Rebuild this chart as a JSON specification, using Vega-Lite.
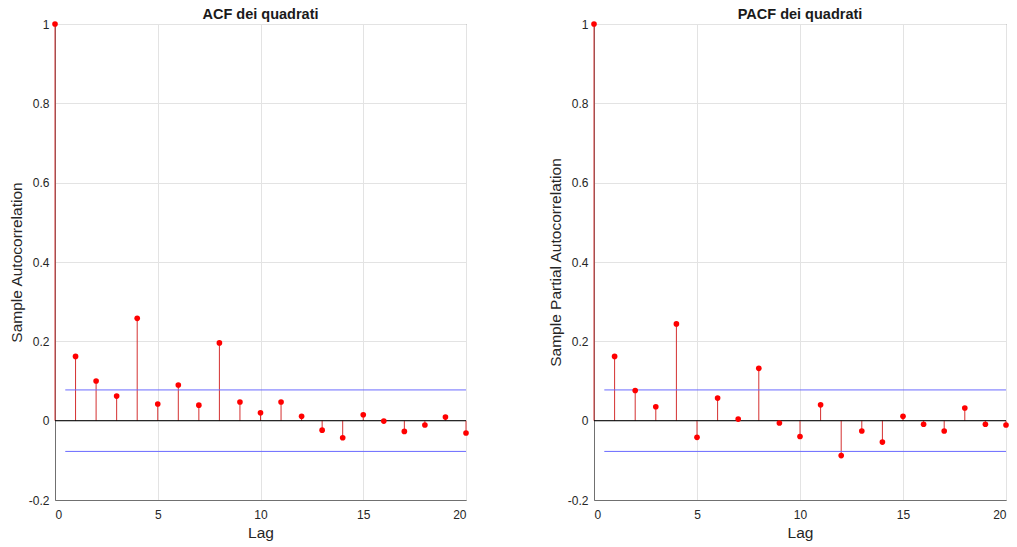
{
  "$schema": "https://vega.github.io/schema/vega-lite/v6.json",
  "background": "white",
  "padding": {"left": 8, "top": 6, "right": 8, "bottom": 2},
  "datasets": {
    "acf": [
      {"lag": 0, "value": 1.0},
      {"lag": 1, "value": 0.162},
      {"lag": 2, "value": 0.100},
      {"lag": 3, "value": 0.062},
      {"lag": 4, "value": 0.258},
      {"lag": 5, "value": 0.042},
      {"lag": 6, "value": 0.090},
      {"lag": 7, "value": 0.039},
      {"lag": 8, "value": 0.196},
      {"lag": 9, "value": 0.047},
      {"lag": 10, "value": 0.020},
      {"lag": 11, "value": 0.047},
      {"lag": 12, "value": 0.011},
      {"lag": 13, "value": -0.024},
      {"lag": 14, "value": -0.043},
      {"lag": 15, "value": 0.015},
      {"lag": 16, "value": -0.001},
      {"lag": 17, "value": -0.027},
      {"lag": 18, "value": -0.011},
      {"lag": 19, "value": 0.009},
      {"lag": 20, "value": -0.031}
    ],
    "pacf": [
      {"lag": 0, "value": 1.0},
      {"lag": 1, "value": 0.162},
      {"lag": 2, "value": 0.076},
      {"lag": 3, "value": 0.035},
      {"lag": 4, "value": 0.244},
      {"lag": 5, "value": -0.042},
      {"lag": 6, "value": 0.057},
      {"lag": 7, "value": 0.004},
      {"lag": 8, "value": 0.132},
      {"lag": 9, "value": -0.006},
      {"lag": 10, "value": -0.040},
      {"lag": 11, "value": 0.040},
      {"lag": 12, "value": -0.088},
      {"lag": 13, "value": -0.026},
      {"lag": 14, "value": -0.054},
      {"lag": 15, "value": 0.011},
      {"lag": 16, "value": -0.009},
      {"lag": 17, "value": -0.026},
      {"lag": 18, "value": 0.032},
      {"lag": 19, "value": -0.009},
      {"lag": 20, "value": -0.011}
    ],
    "bounds": [
      {"start": 0.5, "end": 20, "level": 0.0775},
      {"start": 0.5, "end": 20, "level": -0.0775}
    ],
    "zero": [
      {"start": 0, "end": 20, "level": 0}
    ]
  },
  "spacing": 77,
  "hconcat": [
    {
      "width": 411,
      "height": 476,
      "title": {"text": "ACF dei quadrati"},
      "layer": [
        {
          "data": {"name": "acf"},
          "mark": {"type": "rule", "color": "#d43030", "strokeWidth": 1},
          "encoding": {
            "x": {"field": "lag", "type": "quantitative", "scale": {"domain": [0, 20], "nice": false}, "axis": {"title": "Lag", "values": [0, 5, 10, 15, 20]}},
            "y": {"field": "value", "type": "quantitative", "scale": {"domain": [-0.2, 1], "nice": false}, "axis": {"title": "Sample Autocorrelation", "values": [-0.2, 0, 0.2, 0.4, 0.6, 0.8, 1], "labelExpr": "'' + datum.value"}},
            "y2": {"datum": 0}
          }
        },
        {
          "data": {"name": "bounds"},
          "mark": {"type": "rule", "strokeWidth": 1, "color": "#6a6aff"},
          "encoding": {
            "x": {"field": "start", "type": "quantitative"},
            "x2": {"field": "end"},
            "y": {"field": "level", "type": "quantitative"}
          }
        },
        {
          "data": {"name": "zero"},
          "mark": {"type": "rule", "strokeWidth": 1, "color": "#000000"},
          "encoding": {
            "x": {"field": "start", "type": "quantitative"},
            "x2": {"field": "end"},
            "y": {"field": "level", "type": "quantitative"}
          }
        },
        {
          "data": {"name": "acf"},
          "mark": {"type": "point", "filled": true, "color": "#ff0000", "opacity": 1, "size": 32},
          "encoding": {
            "x": {"field": "lag", "type": "quantitative"},
            "y": {"field": "value", "type": "quantitative"}
          }
        }
      ]
    },
    {
      "width": 412,
      "height": 476,
      "title": {"text": "PACF dei quadrati"},
      "layer": [
        {
          "data": {"name": "pacf"},
          "mark": {"type": "rule", "color": "#d43030", "strokeWidth": 1},
          "encoding": {
            "x": {"field": "lag", "type": "quantitative", "scale": {"domain": [0, 20], "nice": false}, "axis": {"title": "Lag", "values": [0, 5, 10, 15, 20]}},
            "y": {"field": "value", "type": "quantitative", "scale": {"domain": [-0.2, 1], "nice": false}, "axis": {"title": "Sample Partial Autocorrelation", "values": [-0.2, 0, 0.2, 0.4, 0.6, 0.8, 1], "labelExpr": "'' + datum.value"}},
            "y2": {"datum": 0}
          }
        },
        {
          "data": {"name": "bounds"},
          "mark": {"type": "rule", "strokeWidth": 1, "color": "#6a6aff"},
          "encoding": {
            "x": {"field": "start", "type": "quantitative"},
            "x2": {"field": "end"},
            "y": {"field": "level", "type": "quantitative"}
          }
        },
        {
          "data": {"name": "zero"},
          "mark": {"type": "rule", "strokeWidth": 1, "color": "#000000"},
          "encoding": {
            "x": {"field": "start", "type": "quantitative"},
            "x2": {"field": "end"},
            "y": {"field": "level", "type": "quantitative"}
          }
        },
        {
          "data": {"name": "pacf"},
          "mark": {"type": "point", "filled": true, "color": "#ff0000", "opacity": 1, "size": 32},
          "encoding": {
            "x": {"field": "lag", "type": "quantitative"},
            "y": {"field": "value", "type": "quantitative"}
          }
        }
      ]
    }
  ],
  "config": {
    "font": "Liberation Sans",
    "view": {"stroke": "#707070", "strokeWidth": 1},
    "title": {"fontSize": 14.5, "fontWeight": "bold", "color": "#1a1a1a", "offset": -4, "frame": "group", "baseline": "alphabetic"},
    "axis": {
      "grid": true,
      "gridColor": "#e3e3e3",
      "domainColor": "#707070",
      "ticks": false,
      "labelFontSize": 12,
      "labelColor": "#262626",
      "titleFontSize": 15.5,
      "titleFontWeight": "normal",
      "titleColor": "#262626"
    },
    "axisX": {"labelPadding": 9, "titlePadding": 5},
    "axisY": {"labelPadding": 6, "titlePadding": 4}
  }
}
